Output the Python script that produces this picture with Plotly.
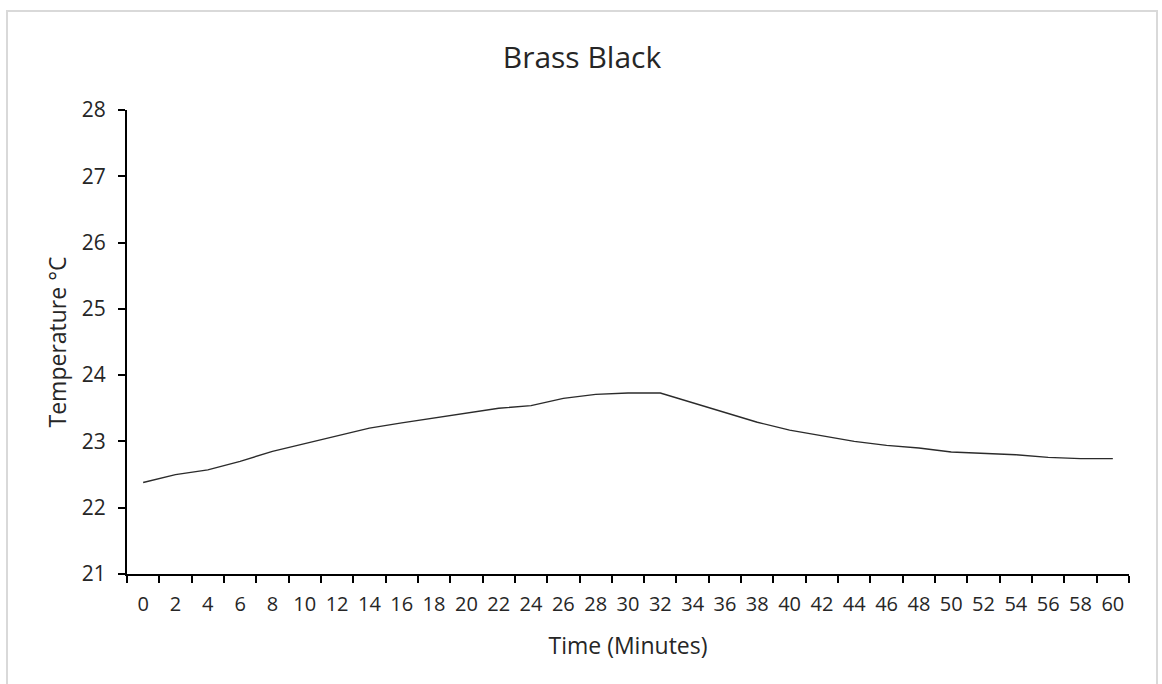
import plotly.graph_objects as go

minutes = [str(m) for m in range(0, 61, 2)]
temperature = [22.38, 22.50, 22.57, 22.70, 22.85, 22.97, 23.09, 23.20, 23.28, 23.35,
               23.42, 23.50, 23.54, 23.65, 23.71, 23.73, 23.73, 23.58, 23.44, 23.29,
               23.17, 23.09, 23.00, 22.94, 22.90, 22.84, 22.82, 22.80, 22.76, 22.74, 22.74]
y_ticks = [21, 22, 23, 24, 25, 26, 27, 28]

FONT = "Open Sans"
W, H = 1162, 684
L, R, T, B = 127, 33, 110, 110
pw, ph = W - L - R, H - T - B

def px(x):
    return (x - L) / pw

def py(y):
    return (H - B - y) / ph

fig = go.Figure()
fig.add_trace(go.Scatter(
    x=minutes, y=temperature, mode="lines",
    line=dict(color="#2b2b2b", width=1.4),
    hoverinfo="x+y", showlegend=False,
))

fig.update_layout(
    width=W, height=H,
    margin=dict(l=L, r=R, t=T, b=B),
    paper_bgcolor="white", plot_bgcolor="white",
    font=dict(family=FONT, color="#262626"),
    title=dict(text="Brass Black", x=582 / W, xanchor="center", xref="container",
               y=1 - 57 / H, yanchor="middle",
               font=dict(family=FONT, size=30, color="#262626")),
    xaxis=dict(
        type="category", range=[-0.5, len(minutes) - 0.5],
        showline=True, linecolor="black", linewidth=2,
        ticks="outside", tickson="boundaries", ticklen=7, tickwidth=2, tickcolor="black",
        showgrid=False, zeroline=False, tickangle=0,
        tickfont=dict(family=FONT, size=20, color="#262626"),
        ticklabelstandoff=11,
        title=dict(text="Time (Minutes)", font=dict(family=FONT, size=23, color="#262626"),
                   standoff=22),
    ),
    yaxis=dict(
        range=[21, 28], tickvals=y_ticks,
        showline=True, linecolor="black", linewidth=2,
        ticks="outside", ticklen=7, tickwidth=2, tickcolor="black",
        showgrid=False, zeroline=False,
        tickfont=dict(family=FONT, size=21, color="#262626"),
        ticklabelstandoff=8,
        title=dict(text="Temperature °C", font=dict(family=FONT, size=23, color="#262626"),
                   standoff=9),
    ),
    shapes=[dict(type="rect", xref="paper", yref="paper",
                 x0=px(7), x1=px(1157), y0=py(700), y1=py(11),
                 line=dict(color="#d9d9d9", width=2), fillcolor="rgba(0,0,0,0)",
                 layer="below")],
)

fig.write_html("out.html")
